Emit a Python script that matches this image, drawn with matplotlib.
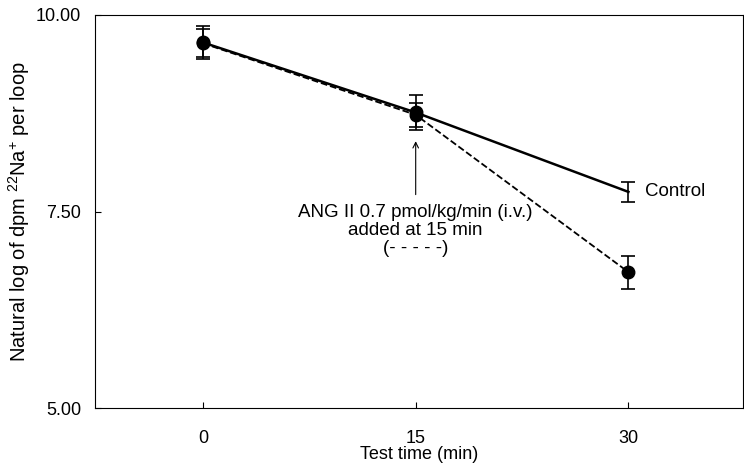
import matplotlib
matplotlib.use("Agg")
import matplotlib.pyplot as plt

plt.rcParams['font.family'] = ['Liberation Sans', 'DejaVu Sans']
plt.rcParams['mathtext.default'] = 'regular'

time = [0, 15, 30]
control = [9.65, 8.76, 7.75]
control_err = [0.21, 0.22, 0.13]
ang = [9.64, 8.73, 6.73]
ang_err = [0.18, 0.15, 0.21]

fig = plt.figure(figsize=(7.44, 4.68), dpi=100)
ax = fig.add_axes([0.128, 0.128, 0.871, 0.84])

ax.errorbar(time, control, yerr=control_err, color='black', lw=1.8,
            capsize=5, elinewidth=1.2, capthick=1.2)
ax.errorbar(time, ang, yerr=ang_err, color='black', lw=1.3, ls='--',
            marker='o', markersize=9, capsize=5, elinewidth=1.2, capthick=1.2)
ax.errorbar(time[:2], control[:2], fmt='o', color='black', markersize=9)

ax.annotate('', xy=(15, 8.43), xytext=(15, 7.68),
            arrowprops=dict(arrowstyle='->', color='black', lw=0.8))
ax.text(15, 7.60, 'ANG II 0.7 pmol/kg/min (i.v.)\nadded at 15 min\n(- - - - -)',
        ha='center', va='top', fontsize=13.5, linespacing=1.1)
ax.text(31.2, control[2], 'Control', ha='left', va='center', fontsize=13.5)

ax.set_xlim(-7.6, 38.1)
ax.set_ylim(5, 10)
ax.set_xticks(time)
ax.set_yticks([5, 7.5, 10])
ax.set_yticklabels(['5.00', '7.50', '10.00'])
ax.tick_params(direction='in', labelsize=13, length=4)
ax.tick_params(axis='x', pad=16)
ax.tick_params(axis='y', pad=10)
ax.set_xlabel('Test time (min)', fontsize=13, labelpad=-1)
ax.set_ylabel(r'Natural log of dpm $^{22}$Na$^{+}$ per loop', fontsize=14.5, labelpad=3)

fig.savefig('out.png', dpi=100)
